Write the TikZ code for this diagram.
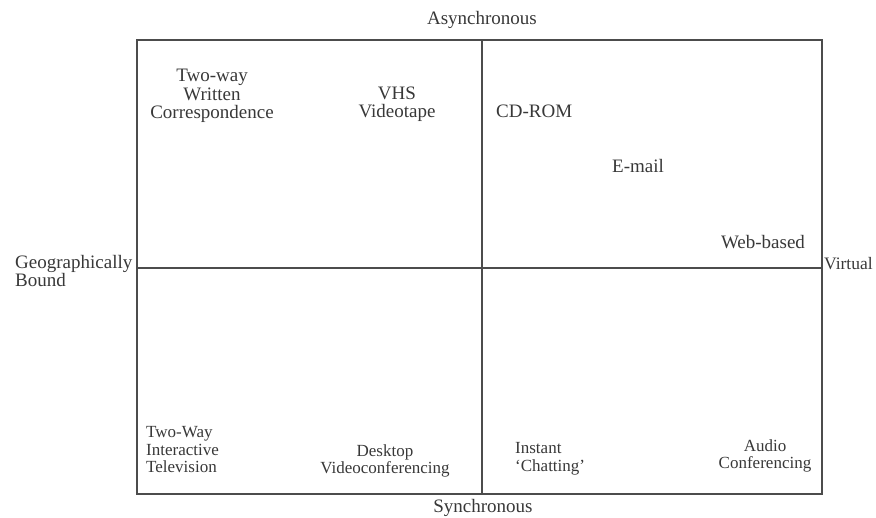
\documentclass[tikz,border=0pt]{standalone}
\usepackage{fontspec}
\setmainfont{Liberation Serif}
\begin{document}
\begin{tikzpicture}[x=1pt,y=-1pt,
  lbl/.style={inner sep=0pt,text=black!78,font=\fontsize{19}{18.5}\selectfont},
  sml/.style={inner sep=0pt,text=black!78,font=\fontsize{17}{17.5}\selectfont},
  frame/.style={draw=black!70,line width=1.4pt}]
\useasboundingbox (0,0) rectangle (876,518);
\coordinate (tl) at (137,40);
\coordinate (br) at (822,494);
\coordinate (mt) at (482,40);
\coordinate (mb) at (482,494);
\coordinate (ml) at (137,268);
\coordinate (mr) at (822,268);
\draw[frame] (tl) rectangle (br);
\draw[frame] (mt) -- (mb);
\draw[frame] (ml) -- (mr);
\node[lbl] (async) at (482,20) {Asynchronous};
\node[lbl] (sync) at (483,508) {Synchronous};
\node[lbl,anchor=west,align=left] (geo) at (15,271) {Geographically\\Bound};
\node[lbl,anchor=west,font=\fontsize{17.5}{18}\selectfont] (virt) at (824,264) {Virtual};
\node[lbl,align=center] (twr) at (212,96) {Two-way\\Written\\Correspondence};
\node[lbl,align=center] (vhs) at (397,104) {VHS\\Videotape};
\node[lbl,anchor=west] (cd) at (496,111) {CD-ROM};
\node[lbl] (email) at (638,166) {E-mail};
\node[lbl] (web) at (763,242) {Web-based};
\node[sml,anchor=west,align=left] (itv) at (146,450) {Two-Way\\Interactive\\Television};
\node[sml,align=center] (desk) at (385,461) {Desktop\\Videoconferencing};
\node[sml,anchor=west,align=left] (chat) at (515,459) {Instant\\`Chatting'};
\node[sml,align=center] (audio) at (765,456) {Audio\\Conferencing};
\end{tikzpicture}
\end{document}
